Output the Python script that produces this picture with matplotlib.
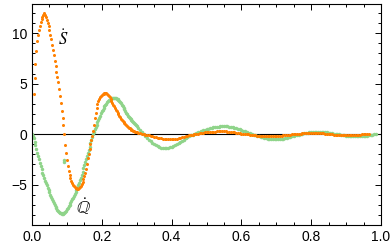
import numpy as np
import matplotlib
matplotlib.use("Agg")
import matplotlib.pyplot as plt
from matplotlib.ticker import MultipleLocator

# --- values ---
# dense part: x from start, step 0.0025, up to 0.300
s_dense_start = 0.005
s_dense = [
    4.0, 5.6, 7.0, 8.2, 9.2, 9.8, 10.3, 10.75, 11.1, 11.4,
    11.6, 11.85, 12.0, 11.85, 11.6, 11.3, 11.0, 10.7, 10.3, 9.85,
    9.4, 8.85, 8.3, 7.8, 7.3, 6.75, 6.2, 5.7, 5.2, 4.5,
    3.8, 3.05, 2.3, 1.6, 0.9, 0.0, -1.1, -1.9, -2.6, -3.15,
    -3.6, -4.0, -4.35, -4.6, -4.8, -5.0, -5.15, -5.27, -5.35, -5.38,
    -5.4, -5.4, -5.35, -5.27, -5.15, -4.97, -4.75, -4.47, -4.15, -3.82,
    -3.45, -2.95, -2.4, -1.95, -1.45, -1.0, -0.6, -0.15, 0.3, 0.95,
    1.6, 2.1, 2.6, 3.0, 3.3, 3.5, 3.7, 3.82, 3.9, 3.97,
    4.02, 4.05, 4.06, 4.05, 4.0, 3.92, 3.8, 3.65, 3.5, 3.3,
    3.1, 2.92, 2.75, 2.57, 2.4, 2.25, 2.1, 1.95, 1.8, 1.67,
    1.55, 1.42, 1.3, 1.2, 1.1, 1.0, 0.9, 0.81, 0.72, 0.64,
    0.57, 0.51, 0.45, 0.4, 0.35, 0.3, 0.26, 0.22, 0.19,
]
# tail: x from 0.305, step 0.005
s_tail = [
    0.13, 0.08, 0.04, 0.0, -0.04, -0.08, -0.12, -0.16, -0.2, -0.25,
    -0.3, -0.34, -0.38, -0.42, -0.45, -0.47, -0.49, -0.5, -0.5, -0.49,
    -0.48, -0.46, -0.43, -0.4, -0.36, -0.32, -0.27, -0.22, -0.17, -0.12,
    -0.08, -0.04, 0.0, 0.03, 0.06, 0.09, 0.12, 0.15, 0.17, 0.19,
    0.21, 0.23, 0.24, 0.25, 0.26, 0.27, 0.28, 0.28, 0.28, 0.28,
    0.27, 0.26, 0.24, 0.22, 0.2, 0.17, 0.14, 0.11, 0.08, 0.05,
    0.03, 0.01, -0.01, -0.03, -0.05, -0.08, -0.1, -0.12, -0.14, -0.16,
    -0.17, -0.19, -0.2, -0.21, -0.22, -0.22, -0.22, -0.22, -0.21, -0.2,
    -0.19, -0.17, -0.15, -0.13, -0.11, -0.09, -0.07, -0.05, -0.03, -0.01,
    0.0, 0.02, 0.04, 0.06, 0.08, 0.1, 0.11, 0.12, 0.13, 0.14,
    0.14, 0.14, 0.13, 0.12, 0.11, 0.09, 0.07, 0.05, 0.03, 0.01,
    0.0, -0.02, -0.04, -0.05, -0.07, -0.08, -0.09, -0.1, -0.1, -0.1,
    -0.1, -0.1, -0.09, -0.08, -0.07, -0.06, -0.05, -0.04, -0.03, -0.02,
    -0.01, 0.0, 0.0,
]

q_dense_start = 0.0
q_dense = [
    0.0, -0.2, -0.4, -0.75, -1.1, -1.5, -1.9, -2.2, -2.5, -2.82,
    -3.15, -3.48, -3.8, -4.08, -4.35, -4.6, -4.85, -5.08, -5.3, -5.52,
    -5.75, -5.98, -6.2, -6.4, -6.6, -6.8, -7.0, -7.18, -7.35, -7.48,
    -7.6, -7.7, -7.8, -7.86, -7.9, -7.89, -7.85, -7.78, -7.7, -7.58,
    -7.45, -7.3, -7.15, -6.98, -6.8, -6.62, -6.45, -6.28, -6.1, -5.9,
    -5.7, -5.5, -5.3, -5.08, -4.85, -4.58, -4.3, -4.0, -3.7, -3.4,
    -3.1, -2.8, -2.5, -2.2, -1.9, -1.58, -1.25, -0.92, -0.6, -0.3,
    0.0, 0.25, 0.5, 0.72, 0.95, 1.18, 1.4, 1.62, 1.85, 2.05,
    2.25, 2.43, 2.6, 2.75, 2.9, 3.03, 3.15, 3.25, 3.35, 3.42,
    3.47, 3.51, 3.54, 3.56, 3.57, 3.57, 3.56, 3.51, 3.45, 3.38,
    3.3, 3.18, 3.05, 2.92, 2.78, 2.63, 2.47, 2.3, 2.14, 1.99,
    1.85, 1.73, 1.62, 1.53, 1.45, 1.35, 1.25, 1.15, 1.05, 0.95,
    0.85,
]
q_tail = [
    0.65, 0.43, 0.22, 0.03, -0.15, -0.35, -0.55, -0.72, -0.88,
    -1.0, -1.12, -1.22, -1.29, -1.34, -1.37, -1.38, -1.37, -1.34, -1.29,
    -1.23, -1.15, -1.06, -0.96, -0.86, -0.75, -0.64, -0.53, -0.42, -0.31,
    -0.21, -0.12, -0.04, 0.03, 0.1, 0.17, 0.24, 0.31, 0.38, 0.44,
    0.5, 0.55, 0.6, 0.64, 0.68, 0.71, 0.74, 0.76, 0.77, 0.78,
    0.78, 0.78, 0.77, 0.75, 0.72, 0.69, 0.65, 0.6, 0.55, 0.49,
    0.43, 0.36, 0.29, 0.22, 0.15, 0.08, 0.02, -0.04, -0.1, -0.16,
    -0.22, -0.27, -0.32, -0.36, -0.4, -0.43, -0.46, -0.48, -0.49, -0.5,
    -0.5, -0.49, -0.48, -0.46, -0.43, -0.4, -0.36, -0.32, -0.28, -0.23,
    -0.18, -0.13, -0.08, -0.04, 0.0, 0.04, 0.08, 0.12, 0.15, 0.18,
    0.2, 0.22, 0.23, 0.24, 0.24, 0.24, 0.23, 0.22, 0.2, 0.18,
    0.15, 0.12, 0.09, 0.06, 0.03, 0.0, -0.03, -0.06, -0.09, -0.12,
    -0.15, -0.17, -0.19, -0.21, -0.22, -0.23, -0.23, -0.23, -0.22, -0.21,
    -0.19, -0.17, -0.14, -0.11, -0.08, -0.05, -0.02, 0.0,
]
tail_start = 0.305

# two stray points below the green curve
q_stray_x = [0.092, 0.092]
q_stray_y = [-2.6, -2.8]

dense_step = 0.0025
tail_step = 0.005
orange = "#ff8000"
green = "#8fd48a"


def xs(start, step, n):
    return start + step * np.arange(n)


s_x = np.concatenate([xs(s_dense_start, dense_step, len(s_dense)),
                      xs(tail_start, tail_step, len(s_tail))])
s_y = np.array(s_dense + s_tail)
q_x = np.concatenate([xs(q_dense_start, dense_step, len(q_dense)),
                      xs(tail_start, tail_step, len(q_tail))])
q_y = np.array(q_dense + q_tail)

plt.rcParams["font.family"] = ["Liberation Sans", "DejaVu Sans"]
plt.rcParams["mathtext.fontset"] = "stix"

fig = plt.figure(figsize=(3.91, 2.45), dpi=100)
ax = fig.add_axes([32 / 391, 20 / 245, 349 / 391, 221 / 245])

ax.axhline(0, color="black", lw=0.8, zorder=1)
ax.plot(q_x, q_y, "o", color=green, ms=2.5, mew=0, zorder=2)
ax.plot(q_stray_x, q_stray_y, "o", color=green, ms=2.5, mew=0, zorder=2)
ax.plot(s_x, s_y, "o", color=orange, ms=2.2, mew=0, zorder=3)

ax.text(0.089, 9.5, r"$\dot{S}$", fontsize=12, ha="center", va="center")
ax.text(0.148, -7.3, r"$\dot{\mathbb{Q}}$", fontsize=13, ha="center", va="center")

ax.set_xlim(0, 1.0)
ax.set_ylim(-9.0, 12.9)
ax.xaxis.set_major_locator(MultipleLocator(0.2))
ax.xaxis.set_minor_locator(MultipleLocator(0.05))
ax.yaxis.set_major_locator(MultipleLocator(5))
ax.yaxis.set_minor_locator(MultipleLocator(1))
ax.xaxis.set_major_formatter(plt.FormatStrFormatter("%.1f"))
ax.tick_params(which="both", direction="in", top=True, right=True, labelsize=10, width=0.7)
ax.tick_params(which="major", length=4)
ax.tick_params(which="minor", length=2)
for sp in ax.spines.values():
    sp.set_linewidth(0.8)

fig.savefig("out.png", dpi=100)
